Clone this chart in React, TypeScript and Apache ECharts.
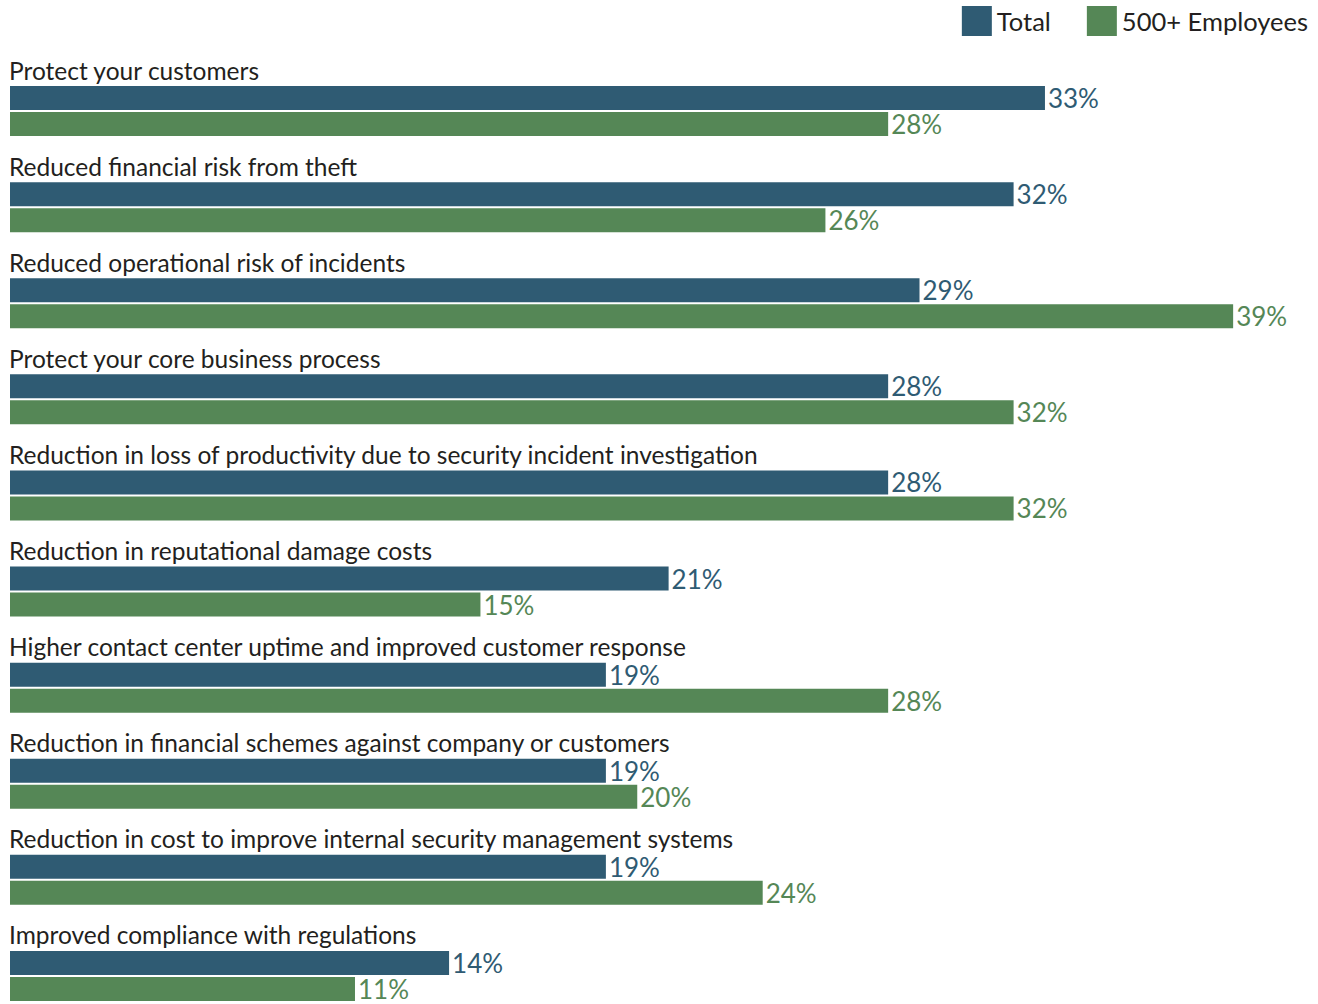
import React, { useEffect, useRef } from "react";
import * as echarts from "echarts";

const categories = [
  "Protect your customers",
  "Reduced financial risk from theft",
  "Reduced operational risk of incidents",
  "Protect your core business process",
  "Reduction in loss of productivity due to security incident investigation",
  "Reduction in reputational damage costs",
  "Higher contact center uptime and improved customer response",
  "Reduction in financial schemes against company or customers",
  "Reduction in cost to improve internal security management systems",
  "Improved compliance with regulations",
];
const totalValues = [33, 32, 29, 28, 28, 21, 19, 19, 19, 14];
const employeesValues = [28, 26, 39, 32, 32, 15, 28, 20, 24, 11];
const seriesNames = ["Total", "500+ Employees"];

const BLUE = "#2F5B73";
const GREEN = "#558756";
const TEXT = "#231F20";
const FONT = "Lato";

export default function App() {
  const ref = useRef<HTMLDivElement>(null);
  useEffect(() => {
    if (!ref.current) return;
    const chart = echarts.init(ref.current, null, { renderer: "svg" });
    const valueLabel = (color: string) => ({
      show: true,
      position: "right" as const,
      distance: 3,
      color,
      fontFamily: FONT,
      fontSize: 26,
      formatter: (p: any) => p.value + "%",
    });
    chart.setOption({
      animation: false,
      backgroundColor: "#ffffff",
      legend: {
        data: seriesNames,
        right: 5,
        top: 1,
        itemWidth: 30,
        itemHeight: 30,
        itemGap: 36,
        icon: "rect",
        textStyle: { fontFamily: FONT, fontSize: 25.5, color: TEXT },
      },
      grid: {
        left: 10,
        right: 53.5,
        top: 50,
        height: 961,
        containLabel: false,
        outerBoundsMode: "none",
      },
      xAxis: {
        type: "value",
        min: 0,
        max: 40,
        show: false,
      },
      yAxis: {
        type: "category",
        data: categories,
        inverse: true,
        show: false,
      },
      series: [
        {
          name: "labels",
          type: "bar",
          data: categories.map(() => 40),
          barWidth: 24,
          barGap: "8.33%",
          silent: true,
          itemStyle: { color: "rgba(0,0,0,0)" },
          label: {
            show: true,
            position: "insideLeft",
            distance: -1,
            offset: [0, -2],
            color: TEXT,
            fontFamily: FONT,
            fontSize: 24.5,
            formatter: (p: any) => p.name,
          },
        },
        {
          name: seriesNames[0],
          type: "bar",
          data: totalValues,
          barWidth: 24,
          barGap: "8.33%",
          itemStyle: { color: BLUE },
          label: valueLabel(BLUE),
        },
        {
          name: seriesNames[1],
          type: "bar",
          data: employeesValues,
          barWidth: 24,
          barGap: "8.33%",
          itemStyle: { color: GREEN },
          label: valueLabel(GREEN),
        },
      ],
    });
    return () => chart.dispose();
  }, []);
  return (
    <div
      ref={ref}
      style={{ position: "fixed", left: 0, top: 0, width: 1318, height: 1004 }}
    />
  );
}
